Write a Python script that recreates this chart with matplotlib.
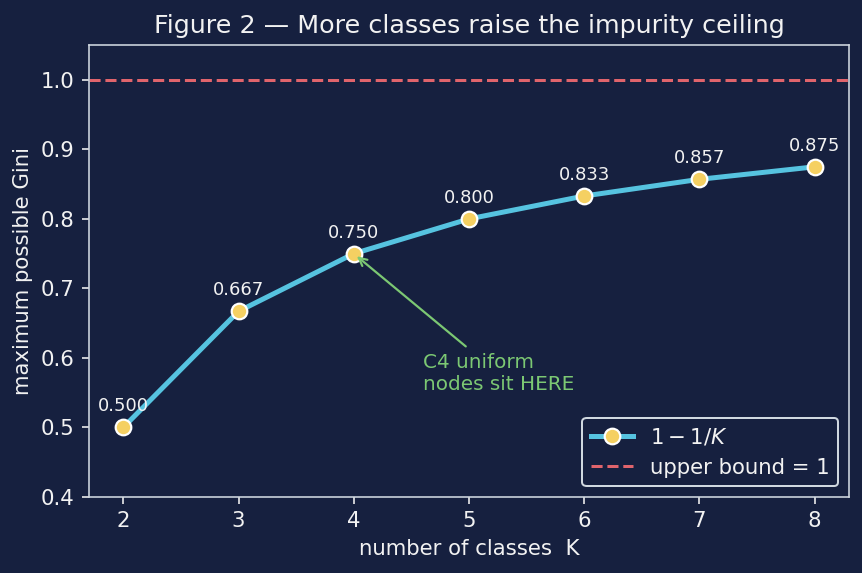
import matplotlib
matplotlib.use("Agg")
import matplotlib.pyplot as plt
import numpy as np

# data
classes_K = [2, 3, 4, 5, 6, 7, 8]
max_gini = [0.500, 0.667, 0.750, 0.800, 0.833, 0.857, 0.875]
upper_bound = 1.0

bg_color = '#16203f'
fg_color = '#f2f2f2'

plt.rcParams['font.family'] = ['DejaVu Sans']

fig = plt.figure(figsize=(862/144, 573/144), dpi=144, facecolor=bg_color)
ax = fig.add_axes([0.103, 0.133, 0.882, 0.788])
ax.set_facecolor(bg_color)

ax.plot(classes_K, max_gini, '-o', color='#56c3e0', linewidth=2.5,
        markersize=7.8, markerfacecolor='#f5d062', markeredgecolor='white',
        markeredgewidth=1.1, label=r'$1 - 1/K$', zorder=3)
ax.axhline(upper_bound, color='#e0646c', linestyle='--', linewidth=1.5,
           label='upper bound = 1')

for k, g in zip(classes_K, max_gini):
    ax.annotate(f"{g:.3f}", (k, g), textcoords='offset points', xytext=(0, 6),
                ha='center', va='bottom', fontsize=9, color=fg_color)

ax.annotate("C4 uniform\nnodes sit HERE", xy=(4, 0.75), xytext=(4.6, 0.548),
            color='#7cc873', fontsize=10, ha='left', va='bottom',
            arrowprops=dict(arrowstyle='->', color='#7cc873', lw=1.1))

ax.set_xlim(1.7, 8.3)
ax.set_ylim(0.4, 1.05)
ax.set_xticks(classes_K)
ax.set_yticks(np.arange(0.4, 1.01, 0.1))

ax.set_title("Figure 2 \u2014 More classes raise the impurity ceiling",
             color=fg_color, fontsize=12.7)
ax.set_xlabel("number of classes  K", color=fg_color, fontsize=10.6)
ax.set_ylabel("maximum possible Gini", color=fg_color, fontsize=10.6)

ax.tick_params(colors=fg_color, labelsize=10.6)
for spine in ax.spines.values():
    spine.set_color('#d0d8e0')

leg = ax.legend(loc='lower right', fontsize=10.6, facecolor=bg_color,
                edgecolor='#d0d8e0', framealpha=1.0)
for t in leg.get_texts():
    t.set_color(fg_color)

fig.savefig("out.png", dpi=144, facecolor=bg_color)
